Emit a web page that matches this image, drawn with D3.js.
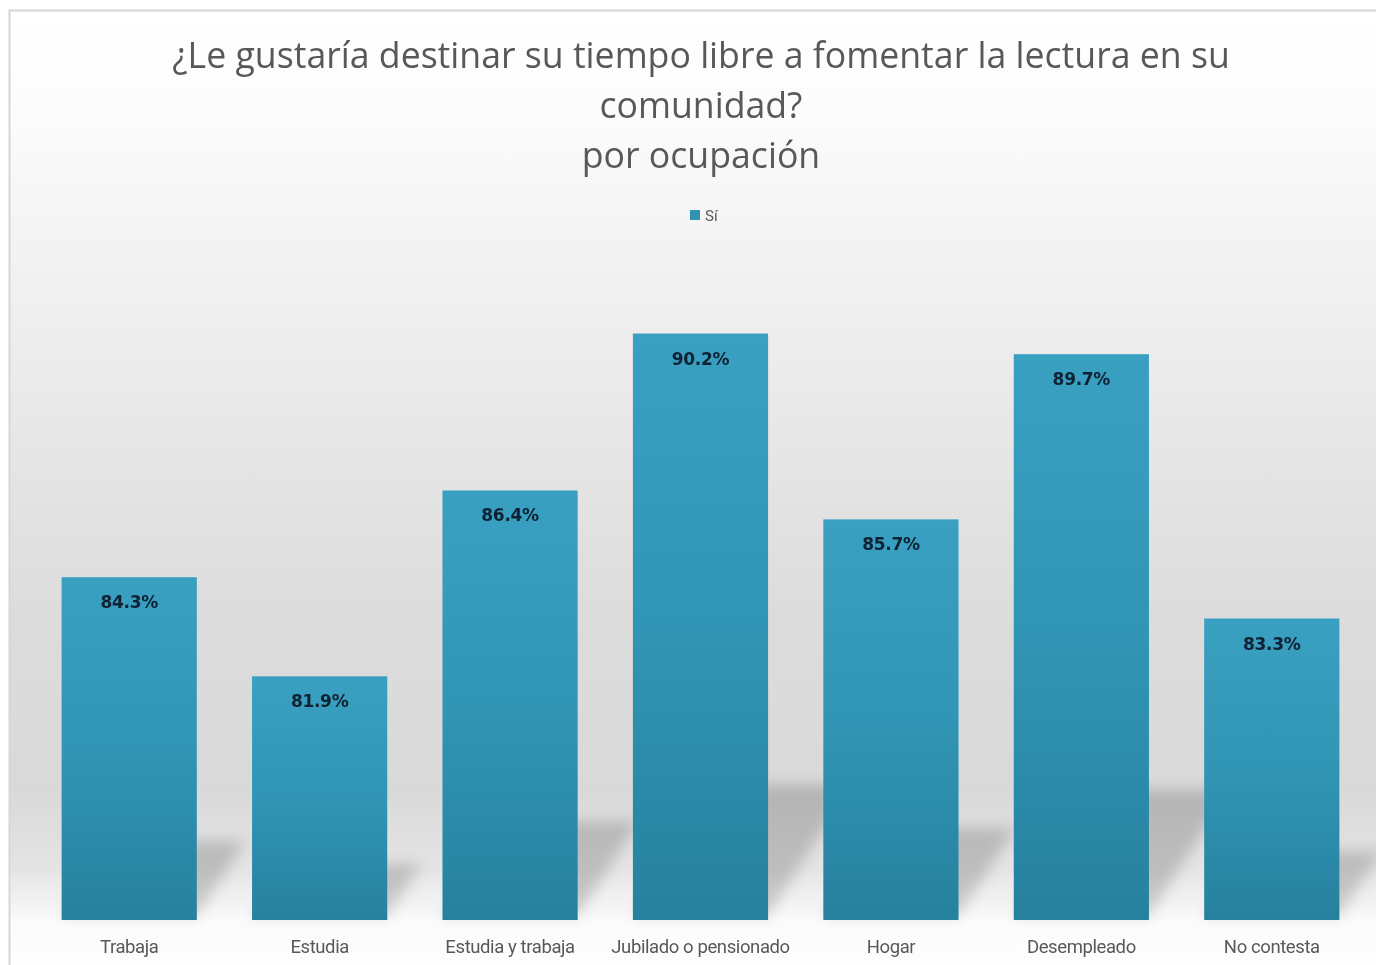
<!DOCTYPE html>
<html>
<head>
<meta charset="utf-8">
<script src="https://cdn.jsdelivr.net/npm/d3@7"></script>
<style>
  html, body { margin: 0; padding: 0; background: #ffffff; }
  svg { display: block; }
</style>
</head>
<body>
<svg id="chart" width="1376" height="965"></svg>
<script>
// Share answering "Sí", by occupation
const categories = ["Trabaja", "Estudia", "Estudia y trabaja", "Jubilado o pensionado", "Hogar", "Desempleado", "No contesta"];
const siValues = [84.3, 81.9, 86.4, 90.2, 85.7, 89.7, 83.3];
const titleLines = ["¿Le gustaría destinar su tiempo libre a fomentar la lectura en su", "comunidad?", "por ocupación"];
const seriesName = "Sí";
const yDomain = [76, 92];

const W = 1376, H = 965;
const svg = d3.select("#chart");
const defs = svg.append("defs");

// Panel background: soft vertical grey gradient
const bg = defs.append("linearGradient").attr("id", "bgGrad")
  .attr("x1", 0).attr("y1", 0).attr("x2", 0).attr("y2", 1);
[[0, "#ffffff"], [0.1, "#fcfcfc"], [0.26, "#f2f2f2"], [0.45, "#e6e6e6"], [0.62, "#dcdcdc"],
 [0.8, "#d9d9d9"], [0.88, "#e4e4e4"], [0.935, "#fbfbfb"], [1, "#ffffff"]]
  .forEach(([o, c]) => bg.append("stop").attr("offset", o).attr("stop-color", c));

// Bar fill: lighter teal at the top, deeper at the base
const barGrad = defs.append("linearGradient").attr("id", "barGrad")
  .attr("x1", 0).attr("y1", 0).attr("x2", 0).attr("y2", 1);
barGrad.append("stop").attr("offset", 0).attr("stop-color", "#3aa0c1");
barGrad.append("stop").attr("offset", 0.5).attr("stop-color", "#3195b5");
barGrad.append("stop").attr("offset", 1).attr("stop-color", "#26819e");

const blur = defs.append("filter").attr("id", "shadowBlur")
  .attr("x", "-30%").attr("y", "-30%").attr("width", "160%").attr("height", "160%");
blur.append("feGaussianBlur").attr("stdDeviation", 7);

const textBlur = defs.append("filter").attr("id", "soft");
textBlur.append("feGaussianBlur").attr("stdDeviation", 0.45);

// Chart panel
svg.append("rect")
  .attr("x", 9.5).attr("y", 10.5).attr("width", W + 10).attr("height", H + 10)
  .attr("fill", "url(#bgGrad)")
  .attr("stroke", "#d6d6d6").attr("stroke-width", 2);

// Scales
const x = d3.scaleBand().domain(categories).range([34, 1367]).paddingInner(0.29).paddingOuter(0.145);
const y = d3.scaleLinear().domain(yDomain).range([920, 259.2]);
const base = y(yDomain[0]);

// Cast shadows behind each bar, slanting up to the right
const shadowG = svg.append("g").attr("filter", "url(#shadowBlur)");
shadowG.selectAll("path").data(siValues).join("path")
  .attr("d", (d, i) => {
    const x0 = x(categories[i]), x1 = x0 + x.bandwidth();
    const hs = (base - y(d)) * 0.23;
    const dx = hs * 0.62;
    return `M${x0},${base - 4} L${x1},${base - 4} L${x1 + dx},${base - hs} L${x0 + dx},${base - hs} Z`;
  })
  .attr("fill", "#000").attr("fill-opacity", 0.17);

// Bars
svg.append("g").selectAll("rect").data(siValues).join("rect")
  .attr("x", (d, i) => x(categories[i]))
  .attr("y", d => y(d))
  .attr("width", x.bandwidth())
  .attr("height", d => base - y(d))
  .attr("fill", "url(#barGrad)");

// Value labels inside the top of each bar
svg.append("g").attr("filter", "url(#soft)").selectAll("text").data(siValues).join("text")
  .attr("x", (d, i) => x(categories[i]) + x.bandwidth() / 2)
  .attr("y", d => y(d) + 31)
  .attr("text-anchor", "middle")
  .attr("font-family", "DejaVu Sans")
  .attr("font-weight", "bold")
  .attr("font-size", 17)
  .attr("letter-spacing", -0.3)
  .attr("fill", "#0f2133")
  .text(d => d.toFixed(1) + "%");

// Category axis
const xAxis = svg.append("g").attr("transform", `translate(0,${base})`)
  .call(d3.axisBottom(x).tickSize(0).tickPadding(0));
xAxis.select(".domain").remove();
xAxis.selectAll("text")
  .attr("dy", 0).attr("y", 33)
  .attr("font-family", "Roboto, sans-serif")
  .attr("font-size", 18.5)
  .attr("letter-spacing", -0.4)
  .attr("fill", "#595959")
  .attr("filter", "url(#soft)");

// Title
const title = svg.append("g").attr("filter", "url(#soft)");
title.selectAll("text").data(titleLines).join("text")
  .attr("x", 701)
  .attr("y", (d, i) => 68 + i * 50)
  .attr("text-anchor", "middle")
  .attr("font-family", "Open Sans, sans-serif")
  .attr("font-size", 33)
  .attr("fill", "#595959")
  .text(d => d);
// fit the first line to its measured span
const first = title.select("text").node();
const w = first.getComputedTextLength();
if (w > 0) {
  const fs = 33 * 1058 / w;
  title.selectAll("text").attr("font-size", Math.min(fs, 36));
}

// Legend
const legend = svg.append("g").attr("transform", "translate(690,210)");
legend.append("rect").attr("width", 10).attr("height", 10).attr("fill", "#2f93b3");
legend.append("text").attr("x", 15).attr("y", 11)
  .attr("font-family", "Roboto, sans-serif")
  .attr("font-size", 15).attr("fill", "#595959")
  .attr("filter", "url(#soft)")
  .text(seriesName);
</script>
</body>
</html>
